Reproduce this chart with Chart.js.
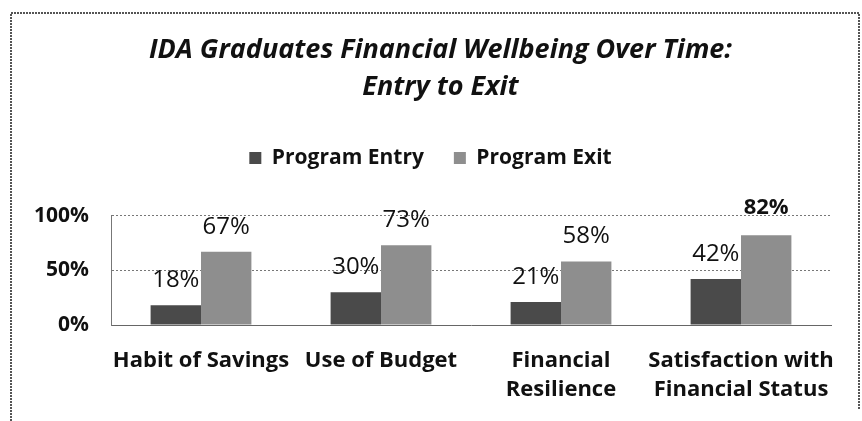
<!DOCTYPE html>
<html>
<head>
<meta charset="utf-8">
<script src="https://cdn.jsdelivr.net/npm/chart.js@4"></script>
<style>
  body { margin: 0; background: #fff; }
  #wrap { width: 862px; height: 421px; }
</style>
</head>
<body>
<div id="wrap"><canvas id="myBarChart" width="862" height="421"></canvas></div>
<script>
const categories = [['Habit of Savings'], ['Use of Budget'], ['Financial', 'Resilience'], ['Satisfaction with', 'Financial Status']];
const entryValues = [18, 30, 21, 42];
const exitValues = [67, 73, 58, 82];
const yTicks = [0, 50, 100];

// labels over the bars, drawn by hand (no datalabels plugin offline)
const barLabels = {
    id: 'barLabels',
    afterDatasetsDraw(chart) {
        const ctx = chart.ctx;
        ctx.save();
        ctx.fillStyle = '#111';
        ctx.textAlign = 'center';
        ctx.textBaseline = 'bottom';
        chart.data.datasets.forEach((ds, i) => {
            chart.getDatasetMeta(i).data.forEach((bar, j) => {
                const last = i === 1 && j === 3;
                ctx.font = last ? 'bold 22px "Open Sans"' : '24px "Open Sans"';
                ctx.fillText(ds.data[j] + '%', bar.x, bar.y - (last ? 17 : 13));
            });
        });
        ctx.restore();
    }
};

// outer frame of the picture
const frame = {
    id: 'frame',
    beforeDraw(chart) {
        const ctx = chart.ctx;
        ctx.save();
        ctx.strokeStyle = '#555';
        ctx.lineWidth = 2;
        ctx.setLineDash([2, 1]);
        ctx.beginPath();
        ctx.moveTo(11, 421);
        ctx.lineTo(11, 13);
        ctx.lineTo(859, 13);
        ctx.lineTo(859, 410);
        ctx.stroke();
        ctx.restore();
    }
};

// extra room under the legend, and title/legend nudged right like the original
const legendGap = {
    id: 'legendGap',
    beforeInit(chart) {
        const fit = chart.legend.fit;
        chart.legend.fit = function () {
            fit.bind(chart.legend)();
            this.height += 37;
        };
    },
    afterLayout(chart) {
        chart.titleBlock.left += 50;
        chart.legend.left += 30;
    }
};

const ctx = document.getElementById('myBarChart').getContext('2d');
const myBarChart = new Chart(ctx, {
    type: 'bar',
    data: {
        labels: categories,
        datasets: [
            { label: 'Program Entry', data: entryValues, backgroundColor: '#4a4a4a' },
            { label: 'Program Exit', data: exitValues, backgroundColor: '#8e8e8e' }
        ]
    },
    options: {
        responsive: false,
        animation: false,
        layout: { padding: { left: 0, right: 31, bottom: 0 } },
        datasets: { bar: { categoryPercentage: 0.56, barPercentage: 1 } },
        scales: {
            x: {
                afterFit(scale) { scale.height = 96; },
                grid: { display: false },
                border: { display: true, color: '#666' },
                ticks: {
                    color: '#111',
                    padding: 14,
                    maxRotation: 0,
                    autoSkip: false,
                    font: { family: 'Open Sans', weight: 'bold', size: 22, lineHeight: 1.28 }
                }
            },
            y: {
                min: 0,
                max: 100,
                afterFit(scale) { scale.width = 111; },
                afterBuildTicks(scale) { scale.ticks = yTicks.map(v => ({ value: v })); },
                grid: { color: '#777', drawTicks: false, tickBorderDash: [4, 3] },
                border: { display: true, color: '#777', dash: [2, 2] },
                ticks: {
                    color: '#111',
                    padding: 22,
                    font: { family: 'Open Sans', weight: 'bold', size: 21 },
                    callback: v => v + '%'
                }
            }
        },
        plugins: {
            title: {
                display: true,
                text: ['IDA Graduates Financial Wellbeing Over Time:', 'Entry to Exit'],
                color: '#111',
                font: { family: 'Open Sans', style: 'italic', size: 27, weight: 'bold', lineHeight: 1.4 },
                padding: { top: 31, bottom: 11 }
            },
            legend: {
                position: 'top',
                labels: {
                    color: '#111',
                    boxWidth: 12,
                    boxHeight: 12,
                    padding: 30,
                    font: { family: 'Open Sans', weight: 'bold', size: 21 }
                }
            },
            tooltip: { enabled: false }
        }
    },
    plugins: [barLabels, frame, legendGap]
});
</script>
</body>
</html>
